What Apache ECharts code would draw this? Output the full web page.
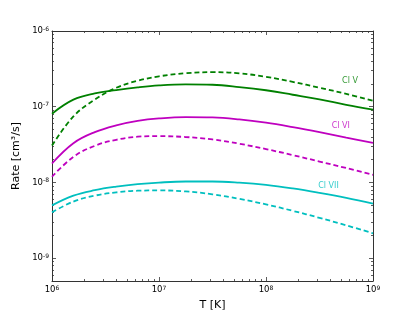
<!DOCTYPE html>
<html><head><meta charset="utf-8">
<script src="https://cdn.jsdelivr.net/npm/echarts@6/dist/echarts.min.js"></script>
<style>html,body{margin:0;padding:0;background:#fff}#c{width:415px;height:312px}</style>
</head><body><div id="c"></div>
<script>
// Temperature grid [K]
const temperatures = [1e6, 1.585e6, 2.512e6, 3.981e6, 6.31e6, 1e7, 1.778e7, 3.162e7, 5.623e7, 1e8, 1.778e8, 3.162e8, 5.623e8, 1e9];
// Rates [cm^3/s]
const clV_solid   = [8.09e-8, 1.24e-7, 1.50e-7, 1.66e-7, 1.80e-7, 1.91e-7, 1.97e-7, 1.95e-7, 1.82e-7, 1.65e-7, 1.44e-7, 1.25e-7, 1.06e-7, 9.14e-8];
const clV_dashed  = [3.07e-8, 7.45e-8, 1.24e-7, 1.78e-7, 2.20e-7, 2.52e-7, 2.77e-7, 2.86e-7, 2.76e-7, 2.48e-7, 2.13e-7, 1.78e-7, 1.48e-7, 1.20e-7];
const clVI_solid  = [1.78e-8, 3.30e-8, 4.62e-8, 5.68e-8, 6.50e-8, 7.00e-8, 7.28e-8, 7.22e-8, 6.80e-8, 6.15e-8, 5.37e-8, 4.61e-8, 3.91e-8, 3.33e-8];
const clVI_dashed = [1.19e-8, 2.18e-8, 3.05e-8, 3.66e-8, 4.02e-8, 4.09e-8, 3.98e-8, 3.70e-8, 3.25e-8, 2.76e-8, 2.30e-8, 1.89e-8, 1.55e-8, 1.26e-8];
const clVII_solid = [4.98e-9, 6.70e-9, 7.90e-9, 8.80e-9, 9.50e-9, 9.98e-9, 1.03e-8, 1.03e-8, 9.95e-9, 9.30e-9, 8.34e-9, 7.28e-9, 6.25e-9, 5.25e-9];
const clVII_dashed= [4.03e-9, 5.60e-9, 6.70e-9, 7.40e-9, 7.78e-9, 7.85e-9, 7.62e-9, 6.98e-9, 6.07e-9, 5.14e-9, 4.22e-9, 3.41e-9, 2.72e-9, 2.13e-9];
// Curve labels
const labelNames = ['Cl V', 'Cl VI', 'Cl VII'];
const labelT = [6.1e8, 5.0e8, 3.84e8];
const labelRate = [2.2e-7, 5.6e-8, 8.9e-9];
// Tick exponents
const xMajorExp = [6, 7, 8, 9];
const yMajorExp = [-9, -8, -7, -6];
const xMin = 1e6, xMax = 1e9, yMin = 5e-10, yMax = 1e-6;

const colors = ['#008000', '#bf00bf', '#00bfbf'];
const FONT = 'DejaVu Sans';

function minorLogs(lo, hi) {
  const out = [];
  for (let n = Math.floor(lo) - 1; n <= Math.ceil(hi); n++) {
    for (let k = 2; k <= 9; k++) {
      const v = Math.log10(k) + n;
      if (v > lo + 1e-9 && v < hi - 1e-9) out.push(v);
    }
  }
  return out;
}
const lxMin = Math.log10(xMin), lxMax = Math.log10(xMax);
const lyMin = Math.log10(yMin), lyMax = Math.log10(yMax);
const xMinor = minorLogs(lxMin, lxMax);
const yMinor = minorLogs(lyMin, lyMax);

const rich = {
  b: {fontSize: 8.5, fontFamily: FONT, color: '#000'},
  s: {fontSize: 6, fontFamily: FONT, color: '#000', verticalAlign: 'top', padding: [0, 0, 4, 0]}
};
const fmt = v => '{b|10}{s|' + Math.round(v) + '}';
const lineColor = '#333';

function decoX(pos, major, withLabel) {
  return {
    type: 'value', min: lxMin, max: lxMax, position: pos, gridIndex: 0,
    axisLine: {show: major, lineStyle: {color: lineColor, width: 1}},
    axisTick: {show: true, inside: true, length: major ? 4 : 2, customValues: major ? xMajorExp : xMinor, lineStyle: {color: lineColor, width: 0.8}},
    axisLabel: withLabel ? {show: true, customValues: xMajorExp, formatter: fmt, rich: rich, margin: 4} : {show: false},
    splitLine: {show: false}
  };
}
function decoY(pos, major, withLabel) {
  return {
    type: 'value', min: lyMin, max: lyMax, position: pos, gridIndex: 0,
    axisLine: {show: major, lineStyle: {color: lineColor, width: 1}},
    axisTick: {show: true, inside: true, length: major ? 4 : 2, customValues: major ? yMajorExp : yMinor, lineStyle: {color: lineColor, width: 0.8}},
    axisLabel: withLabel ? {show: true, customValues: yMajorExp, formatter: fmt, rich: rich, margin: 3} : {show: false},
    splitLine: {show: false}
  };
}

const xAxes = [
  {type: 'log', logBase: 10, min: xMin, max: xMax, show: false, gridIndex: 0},
  Object.assign(decoX('bottom', true, true), {name: 'T [K]', nameLocation: 'middle', nameGap: 14,
    nameTextStyle: {fontSize: 11, fontFamily: FONT, color: '#000'}}),
  decoX('bottom', false, false),
  decoX('top', true, false),
  decoX('top', false, false)
];
const yAxes = [
  {type: 'log', logBase: 10, min: yMin, max: yMax, show: false, gridIndex: 0},
  Object.assign(decoY('left', true, true), {name: 'Rate [cm³/s]', nameLocation: 'middle', nameGap: 25,
    nameTextStyle: {fontSize: 11, fontFamily: FONT, color: '#000'}}),
  decoY('left', false, false),
  decoY('right', true, false),
  decoY('right', false, false)
];

function line(values, color, dashed) {
  return {
    type: 'line', xAxisIndex: 0, yAxisIndex: 0, smooth: 0.4, showSymbol: false, symbol: 'none',
    data: temperatures.map((t, i) => [t, values[i]]),
    lineStyle: {color: color, width: 1.8, type: dashed ? [5, 3] : 'solid'},
    z: 3
  };
}

const series = [
  line(clV_solid, colors[0], false), line(clV_dashed, colors[0], true),
  line(clVI_solid, colors[1], false), line(clVI_dashed, colors[1], true),
  line(clVII_solid, colors[2], false), line(clVII_dashed, colors[2], true),
  {
    type: 'scatter', xAxisIndex: 0, yAxisIndex: 0, symbolSize: 0, silent: true,
    data: labelNames.map((n, i) => ({
      value: [labelT[i], labelRate[i]], name: n,
      label: {show: true, position: 'inside', formatter: n, color: colors[i], fontSize: 8, fontFamily: FONT}
    }))
  }
];

const chart = echarts.init(document.getElementById('c'), null, {renderer: 'canvas'});
chart.setOption({
  animation: false,
  backgroundColor: '#fff',
  grid: {left: 52, right: 42, top: 31, bottom: 31, containLabel: false, outerBoundsMode: 'none'},
  xAxis: xAxes,
  yAxis: yAxes,
  series: series
});
</script>
</body></html>
